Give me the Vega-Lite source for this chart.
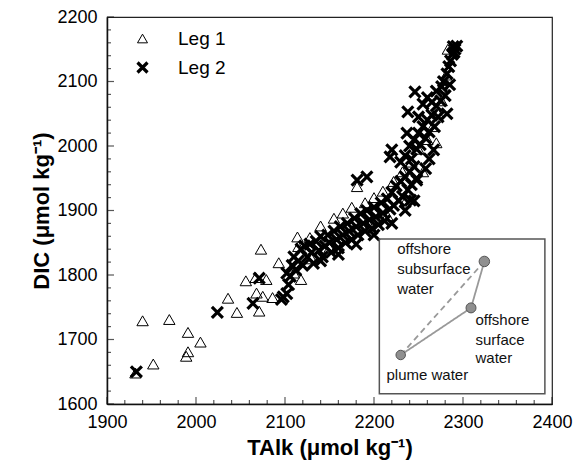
{
  "$schema": "https://vega.github.io/schema/vega-lite/v6.json",
  "autosize": {"type": "none"},
  "width": 445,
  "height": 387,
  "padding": {"left": 107, "top": 17, "right": 30, "bottom": 63},
  "config": {
    "font": "Liberation Sans",
    "view": {"stroke": "#222", "strokeWidth": 1.2},
    "axis": {"grid": false, "labelFont": "Liberation Sans", "titleFont": "Liberation Sans", "labelColor": "#000", "titleColor": "#000", "domainColor": "#111", "tickColor": "#111"}
  },
  "datasets": {
    "pts": [
      {"leg": "Leg 1", "T": 1940, "DIC": 1729},
      {"leg": "Leg 1", "T": 1970, "DIC": 1731},
      {"leg": "Leg 1", "T": 1952, "DIC": 1662},
      {"leg": "Leg 1", "T": 1991, "DIC": 1711},
      {"leg": "Leg 1", "T": 1991, "DIC": 1681},
      {"leg": "Leg 1", "T": 1989, "DIC": 1674},
      {"leg": "Leg 1", "T": 2005, "DIC": 1696},
      {"leg": "Leg 1", "T": 1932, "DIC": 1648},
      {"leg": "Leg 1", "T": 2036, "DIC": 1764},
      {"leg": "Leg 1", "T": 2046, "DIC": 1742},
      {"leg": "Leg 1", "T": 2056, "DIC": 1791},
      {"leg": "Leg 1", "T": 2067, "DIC": 1796},
      {"leg": "Leg 1", "T": 2079, "DIC": 1793},
      {"leg": "Leg 1", "T": 2073, "DIC": 1840},
      {"leg": "Leg 1", "T": 2068, "DIC": 1772},
      {"leg": "Leg 1", "T": 2075, "DIC": 1767},
      {"leg": "Leg 1", "T": 2071, "DIC": 1744},
      {"leg": "Leg 1", "T": 2086, "DIC": 1765},
      {"leg": "Leg 1", "T": 2093, "DIC": 1819},
      {"leg": "Leg 1", "T": 2114, "DIC": 1859},
      {"leg": "Leg 1", "T": 2115, "DIC": 1844},
      {"leg": "Leg 1", "T": 2118, "DIC": 1793},
      {"leg": "Leg 1", "T": 2128, "DIC": 1858},
      {"leg": "Leg 1", "T": 2140, "DIC": 1876},
      {"leg": "Leg 1", "T": 2155, "DIC": 1888},
      {"leg": "Leg 1", "T": 2165, "DIC": 1896},
      {"leg": "Leg 1", "T": 2175, "DIC": 1905},
      {"leg": "Leg 1", "T": 2181, "DIC": 1937},
      {"leg": "Leg 1", "T": 2190, "DIC": 1912},
      {"leg": "Leg 1", "T": 2200, "DIC": 1920},
      {"leg": "Leg 1", "T": 2210, "DIC": 1930},
      {"leg": "Leg 1", "T": 2222, "DIC": 1945},
      {"leg": "Leg 1", "T": 2232, "DIC": 1960},
      {"leg": "Leg 1", "T": 2242, "DIC": 1975},
      {"leg": "Leg 1", "T": 2250, "DIC": 1995},
      {"leg": "Leg 1", "T": 2260, "DIC": 2010},
      {"leg": "Leg 1", "T": 2266, "DIC": 2030},
      {"leg": "Leg 1", "T": 2272, "DIC": 2050},
      {"leg": "Leg 1", "T": 2276, "DIC": 2070},
      {"leg": "Leg 1", "T": 2279, "DIC": 2090},
      {"leg": "Leg 1", "T": 2281, "DIC": 2110},
      {"leg": "Leg 1", "T": 2283, "DIC": 2150},
      {"leg": "Leg 1", "T": 2150, "DIC": 1842},
      {"leg": "Leg 1", "T": 2130, "DIC": 1825},
      {"leg": "Leg 1", "T": 2110, "DIC": 1803},
      {"leg": "Leg 1", "T": 2195, "DIC": 1876},
      {"leg": "Leg 1", "T": 2215, "DIC": 1892},
      {"leg": "Leg 1", "T": 2235, "DIC": 1913},
      {"leg": "Leg 1", "T": 2255, "DIC": 1960},
      {"leg": "Leg 1", "T": 2270, "DIC": 2005},
      {"leg": "Leg 2", "T": 1933, "DIC": 1650},
      {"leg": "Leg 2", "T": 2024, "DIC": 1742},
      {"leg": "Leg 2", "T": 2064, "DIC": 1756},
      {"leg": "Leg 2", "T": 2071, "DIC": 1795},
      {"leg": "Leg 2", "T": 2096, "DIC": 1762},
      {"leg": "Leg 2", "T": 2098, "DIC": 1766},
      {"leg": "Leg 2", "T": 2102, "DIC": 1771},
      {"leg": "Leg 2", "T": 2104, "DIC": 1785},
      {"leg": "Leg 2", "T": 2102, "DIC": 1803},
      {"leg": "Leg 2", "T": 2106, "DIC": 1798},
      {"leg": "Leg 2", "T": 2108, "DIC": 1815},
      {"leg": "Leg 2", "T": 2110, "DIC": 1828},
      {"leg": "Leg 2", "T": 2112, "DIC": 1808},
      {"leg": "Leg 2", "T": 2115, "DIC": 1822},
      {"leg": "Leg 2", "T": 2118, "DIC": 1840},
      {"leg": "Leg 2", "T": 2120, "DIC": 1815},
      {"leg": "Leg 2", "T": 2122, "DIC": 1845},
      {"leg": "Leg 2", "T": 2125, "DIC": 1828},
      {"leg": "Leg 2", "T": 2128, "DIC": 1848},
      {"leg": "Leg 2", "T": 2130, "DIC": 1835},
      {"leg": "Leg 2", "T": 2132, "DIC": 1818},
      {"leg": "Leg 2", "T": 2135, "DIC": 1852},
      {"leg": "Leg 2", "T": 2138, "DIC": 1838},
      {"leg": "Leg 2", "T": 2140, "DIC": 1860},
      {"leg": "Leg 2", "T": 2142, "DIC": 1828},
      {"leg": "Leg 2", "T": 2145, "DIC": 1845},
      {"leg": "Leg 2", "T": 2148, "DIC": 1862},
      {"leg": "Leg 2", "T": 2150, "DIC": 1850},
      {"leg": "Leg 2", "T": 2152, "DIC": 1835},
      {"leg": "Leg 2", "T": 2155, "DIC": 1868},
      {"leg": "Leg 2", "T": 2158, "DIC": 1855},
      {"leg": "Leg 2", "T": 2160, "DIC": 1842},
      {"leg": "Leg 2", "T": 2162, "DIC": 1875},
      {"leg": "Leg 2", "T": 2165, "DIC": 1862},
      {"leg": "Leg 2", "T": 2168, "DIC": 1850},
      {"leg": "Leg 2", "T": 2170, "DIC": 1880},
      {"leg": "Leg 2", "T": 2172, "DIC": 1868},
      {"leg": "Leg 2", "T": 2175, "DIC": 1855},
      {"leg": "Leg 2", "T": 2178, "DIC": 1888},
      {"leg": "Leg 2", "T": 2180, "DIC": 1875},
      {"leg": "Leg 2", "T": 2182, "DIC": 1862},
      {"leg": "Leg 2", "T": 2185, "DIC": 1895},
      {"leg": "Leg 2", "T": 2188, "DIC": 1880},
      {"leg": "Leg 2", "T": 2190, "DIC": 1868},
      {"leg": "Leg 2", "T": 2192, "DIC": 1900},
      {"leg": "Leg 2", "T": 2195, "DIC": 1886},
      {"leg": "Leg 2", "T": 2198, "DIC": 1872},
      {"leg": "Leg 2", "T": 2200, "DIC": 1905},
      {"leg": "Leg 2", "T": 2202, "DIC": 1890},
      {"leg": "Leg 2", "T": 2205, "DIC": 1878},
      {"leg": "Leg 2", "T": 2208, "DIC": 1912},
      {"leg": "Leg 2", "T": 2210, "DIC": 1896},
      {"leg": "Leg 2", "T": 2212, "DIC": 1884},
      {"leg": "Leg 2", "T": 2215, "DIC": 1918},
      {"leg": "Leg 2", "T": 2218, "DIC": 1902},
      {"leg": "Leg 2", "T": 2220, "DIC": 1928},
      {"leg": "Leg 2", "T": 2222, "DIC": 1908},
      {"leg": "Leg 2", "T": 2225, "DIC": 1938},
      {"leg": "Leg 2", "T": 2228, "DIC": 1915},
      {"leg": "Leg 2", "T": 2230, "DIC": 1945},
      {"leg": "Leg 2", "T": 2232, "DIC": 1922},
      {"leg": "Leg 2", "T": 2235, "DIC": 1952},
      {"leg": "Leg 2", "T": 2238, "DIC": 1932},
      {"leg": "Leg 2", "T": 2240, "DIC": 1960},
      {"leg": "Leg 2", "T": 2242, "DIC": 1940},
      {"leg": "Leg 2", "T": 2245, "DIC": 1968},
      {"leg": "Leg 2", "T": 2248, "DIC": 1950},
      {"leg": "Leg 2", "T": 2181, "DIC": 1947},
      {"leg": "Leg 2", "T": 2192, "DIC": 1952},
      {"leg": "Leg 2", "T": 2218, "DIC": 1983},
      {"leg": "Leg 2", "T": 2220, "DIC": 1994},
      {"leg": "Leg 2", "T": 2238, "DIC": 2053},
      {"leg": "Leg 2", "T": 2246, "DIC": 2084},
      {"leg": "Leg 2", "T": 2237, "DIC": 2020},
      {"leg": "Leg 2", "T": 2230, "DIC": 1975},
      {"leg": "Leg 2", "T": 2235, "DIC": 1985},
      {"leg": "Leg 2", "T": 2240, "DIC": 2000},
      {"leg": "Leg 2", "T": 2242, "DIC": 1980},
      {"leg": "Leg 2", "T": 2245, "DIC": 2010},
      {"leg": "Leg 2", "T": 2248, "DIC": 1995},
      {"leg": "Leg 2", "T": 2250, "DIC": 2020},
      {"leg": "Leg 2", "T": 2252, "DIC": 2002},
      {"leg": "Leg 2", "T": 2255, "DIC": 2030},
      {"leg": "Leg 2", "T": 2258, "DIC": 2012},
      {"leg": "Leg 2", "T": 2260, "DIC": 2040},
      {"leg": "Leg 2", "T": 2262, "DIC": 2022},
      {"leg": "Leg 2", "T": 2265, "DIC": 2048},
      {"leg": "Leg 2", "T": 2268, "DIC": 2030},
      {"leg": "Leg 2", "T": 2270, "DIC": 2062},
      {"leg": "Leg 2", "T": 2250, "DIC": 2045},
      {"leg": "Leg 2", "T": 2255, "DIC": 2065},
      {"leg": "Leg 2", "T": 2260, "DIC": 2075},
      {"leg": "Leg 2", "T": 2265, "DIC": 2068},
      {"leg": "Leg 2", "T": 2270, "DIC": 2085},
      {"leg": "Leg 2", "T": 2272, "DIC": 2045},
      {"leg": "Leg 2", "T": 2275, "DIC": 2070},
      {"leg": "Leg 2", "T": 2276, "DIC": 2092},
      {"leg": "Leg 2", "T": 2278, "DIC": 2100},
      {"leg": "Leg 2", "T": 2280, "DIC": 2078},
      {"leg": "Leg 2", "T": 2282, "DIC": 2050},
      {"leg": "Leg 2", "T": 2282, "DIC": 2112},
      {"leg": "Leg 2", "T": 2284, "DIC": 2123},
      {"leg": "Leg 2", "T": 2285, "DIC": 2095},
      {"leg": "Leg 2", "T": 2286, "DIC": 2132},
      {"leg": "Leg 2", "T": 2288, "DIC": 2142},
      {"leg": "Leg 2", "T": 2289, "DIC": 2154},
      {"leg": "Leg 2", "T": 2291, "DIC": 2150},
      {"leg": "Leg 2", "T": 2293, "DIC": 2155},
      {"leg": "Leg 2", "T": 2290, "DIC": 2145},
      {"leg": "Leg 2", "T": 2267, "DIC": 1994},
      {"leg": "Leg 2", "T": 2248, "DIC": 1947},
      {"leg": "Leg 2", "T": 2241, "DIC": 1916},
      {"leg": "Leg 2", "T": 2258, "DIC": 1965},
      {"leg": "Leg 2", "T": 2262, "DIC": 1980},
      {"leg": "Leg 2", "T": 2140, "DIC": 1822},
      {"leg": "Leg 2", "T": 2160, "DIC": 1832},
      {"leg": "Leg 2", "T": 2180, "DIC": 1848},
      {"leg": "Leg 2", "T": 2200, "DIC": 1862},
      {"leg": "Leg 2", "T": 2220, "DIC": 1880},
      {"leg": "Leg 2", "T": 2235, "DIC": 1900},
      {"leg": "Leg 2", "T": 2245, "DIC": 1915}
    ],
    "xmaj": [{"v": 1900}, {"v": 2000}, {"v": 2100}, {"v": 2200}, {"v": 2300}, {"v": 2400}],
    "xmin": [{"v": 1920}, {"v": 1940}, {"v": 1960}, {"v": 1980}, {"v": 2020}, {"v": 2040}, {"v": 2060}, {"v": 2080}, {"v": 2120}, {"v": 2140}, {"v": 2160}, {"v": 2180}, {"v": 2220}, {"v": 2240}, {"v": 2260}, {"v": 2280}, {"v": 2320}, {"v": 2340}, {"v": 2360}, {"v": 2380}],
    "ymaj": [{"v": 1600}, {"v": 1700}, {"v": 1800}, {"v": 1900}, {"v": 2000}, {"v": 2100}, {"v": 2200}],
    "ymin": [{"v": 1620}, {"v": 1640}, {"v": 1660}, {"v": 1680}, {"v": 1720}, {"v": 1740}, {"v": 1760}, {"v": 1780}, {"v": 1820}, {"v": 1840}, {"v": 1860}, {"v": 1880}, {"v": 1920}, {"v": 1940}, {"v": 1960}, {"v": 1980}, {"v": 2020}, {"v": 2040}, {"v": 2060}, {"v": 2080}, {"v": 2120}, {"v": 2140}, {"v": 2160}, {"v": 2180}],
    "box": [{"x1": 2206, "x2": 2392, "y1": 1616, "y2": 1856}],
    "ends": [
      {"name": "subsurface", "T": 2324, "DIC": 1821},
      {"name": "surface", "T": 2309, "DIC": 1749},
      {"name": "plume", "T": 2230, "DIC": 1676}
    ],
    "lines": [
      {"style": "solid", "ord": 1, "T": 2230, "DIC": 1676},
      {"style": "solid", "ord": 2, "T": 2309, "DIC": 1749},
      {"style": "solid", "ord": 3, "T": 2324, "DIC": 1821},
      {"style": "dashed", "ord": 1, "T": 2230, "DIC": 1676},
      {"style": "dashed", "ord": 2, "T": 2324, "DIC": 1821}
    ],
    "labels": [
      {"text": "offshore", "T": 2226, "DIC": 1841},
      {"text": "subsurface", "T": 2226, "DIC": 1810},
      {"text": "water", "T": 2226, "DIC": 1779},
      {"text": "offshore", "T": 2314, "DIC": 1730},
      {"text": "surface", "T": 2314, "DIC": 1700},
      {"text": "water", "T": 2314, "DIC": 1671},
      {"text": "plume water", "T": 2214, "DIC": 1645}
    ]
  },
  "layer": [
    {
      "data": {"name": "pts"},
      "mark": {"type": "point", "filled": false, "color": "#000", "opacity": 1},
      "encoding": {
        "x": {"field": "T", "type": "quantitative", "scale": {"domain": [1900, 2400], "nice": false, "zero": false},
          "axis": {"orient": "bottom", "tickCount": 200, "values": [1900, 2000, 2100, 2200, 2300, 2400], "format": "d", "ticks": false,
            "domainWidth": 1.5, "labelFontSize": 18, "labelPadding": 9, "labelFlush": false, "labelOverlap": false,
            "title": "TAlk (μmol kg⁻¹)", "titleFontSize": 22, "titleFontWeight": "bold", "titlePadding": 6}},
        "y": {"field": "DIC", "type": "quantitative", "scale": {"domain": [1600, 2200], "nice": false, "zero": false},
          "axis": {"orient": "left", "tickCount": 200, "values": [1600, 1700, 1800, 1900, 2000, 2100, 2200], "format": "d", "ticks": false,
            "domainWidth": 1.5, "labelFontSize": 18, "labelPadding": 10, "labelFlush": false, "labelOverlap": false,
            "title": "DIC (μmol kg⁻¹)", "titleFontSize": 22, "titleFontWeight": "bold", "titlePadding": 3}},
        "shape": {"field": "leg", "type": "nominal", "scale": {"domain": ["Leg 1", "Leg 2"], "range": ["triangle-up", "M-1,-1L1,1M1,-1L-1,1"]},
          "legend": {"title": null, "orient": "none", "legendX": 26, "legendY": 12, "labelFontSize": 19, "labelFont": "Liberation Sans", "labelOffset": 26, "rowPadding": 7, "padding": 0}},
        "size": {"field": "leg", "type": "nominal", "scale": {"domain": ["Leg 1", "Leg 2"], "range": [130, 90]}},
        "strokeWidth": {"field": "leg", "type": "nominal", "scale": {"domain": ["Leg 1", "Leg 2"], "range": [1, 3.2]}}
      }
    },
    {
      "data": {"name": "xmaj"},
      "mark": {"type": "tick", "orient": "vertical", "size": 7, "thickness": 1.2, "color": "#111", "yOffset": -3.5},
      "encoding": {
        "x": {"field": "v", "type": "quantitative"},
        "y": {"datum": 1600, "type": "quantitative"}
      }
    },
    {
      "data": {"name": "xmin"},
      "mark": {"type": "tick", "orient": "vertical", "size": 4, "thickness": 1.2, "color": "#111", "yOffset": -2},
      "encoding": {
        "x": {"field": "v", "type": "quantitative"},
        "y": {"datum": 1600, "type": "quantitative"}
      }
    },
    {
      "data": {"name": "ymaj"},
      "mark": {"type": "tick", "orient": "horizontal", "size": 7, "thickness": 1.2, "color": "#111", "xOffset": 3.5},
      "encoding": {
        "y": {"field": "v", "type": "quantitative"},
        "x": {"datum": 1900, "type": "quantitative"}
      }
    },
    {
      "data": {"name": "ymin"},
      "mark": {"type": "tick", "orient": "horizontal", "size": 4, "thickness": 1.2, "color": "#111", "xOffset": 2},
      "encoding": {
        "y": {"field": "v", "type": "quantitative"},
        "x": {"datum": 1900, "type": "quantitative"}
      }
    },
    {
      "data": {"name": "box"},
      "mark": {"type": "rect", "fill": null, "fillOpacity": 0, "stroke": "#555", "strokeWidth": 1.5},
      "encoding": {
        "x": {"field": "x1", "type": "quantitative"},
        "x2": {"field": "x2"},
        "y": {"field": "y1", "type": "quantitative"},
        "y2": {"field": "y2"}
      }
    },
    {
      "data": {"name": "lines"},
      "mark": {"type": "line", "color": "#999", "strokeWidth": 1.8},
      "encoding": {
        "x": {"field": "T", "type": "quantitative"},
        "y": {"field": "DIC", "type": "quantitative"},
        "detail": {"field": "style"},
        "order": {"field": "ord", "type": "quantitative"},
        "strokeDash": {"field": "style", "type": "nominal", "scale": {"domain": ["solid", "dashed"], "range": [[1, 0], [6, 4]]}, "legend": null}
      }
    },
    {
      "data": {"name": "ends"},
      "mark": {"type": "point", "shape": "circle", "filled": true, "fill": "#8f8f8f", "stroke": "#555", "strokeWidth": 1, "opacity": 1},
      "encoding": {
        "x": {"field": "T", "type": "quantitative"},
        "y": {"field": "DIC", "type": "quantitative"},
        "size": {"field": "name", "type": "nominal", "scale": {"domain": ["subsurface", "surface", "plume"], "range": [121, 270, 121]}, "legend": null}
      }
    },
    {
      "data": {"name": "labels"},
      "mark": {"type": "text", "align": "left", "baseline": "middle", "fontSize": 15, "font": "Liberation Sans", "color": "#111"},
      "encoding": {
        "x": {"field": "T", "type": "quantitative"},
        "y": {"field": "DIC", "type": "quantitative"},
        "text": {"field": "text"}
      }
    }
  ]
}
